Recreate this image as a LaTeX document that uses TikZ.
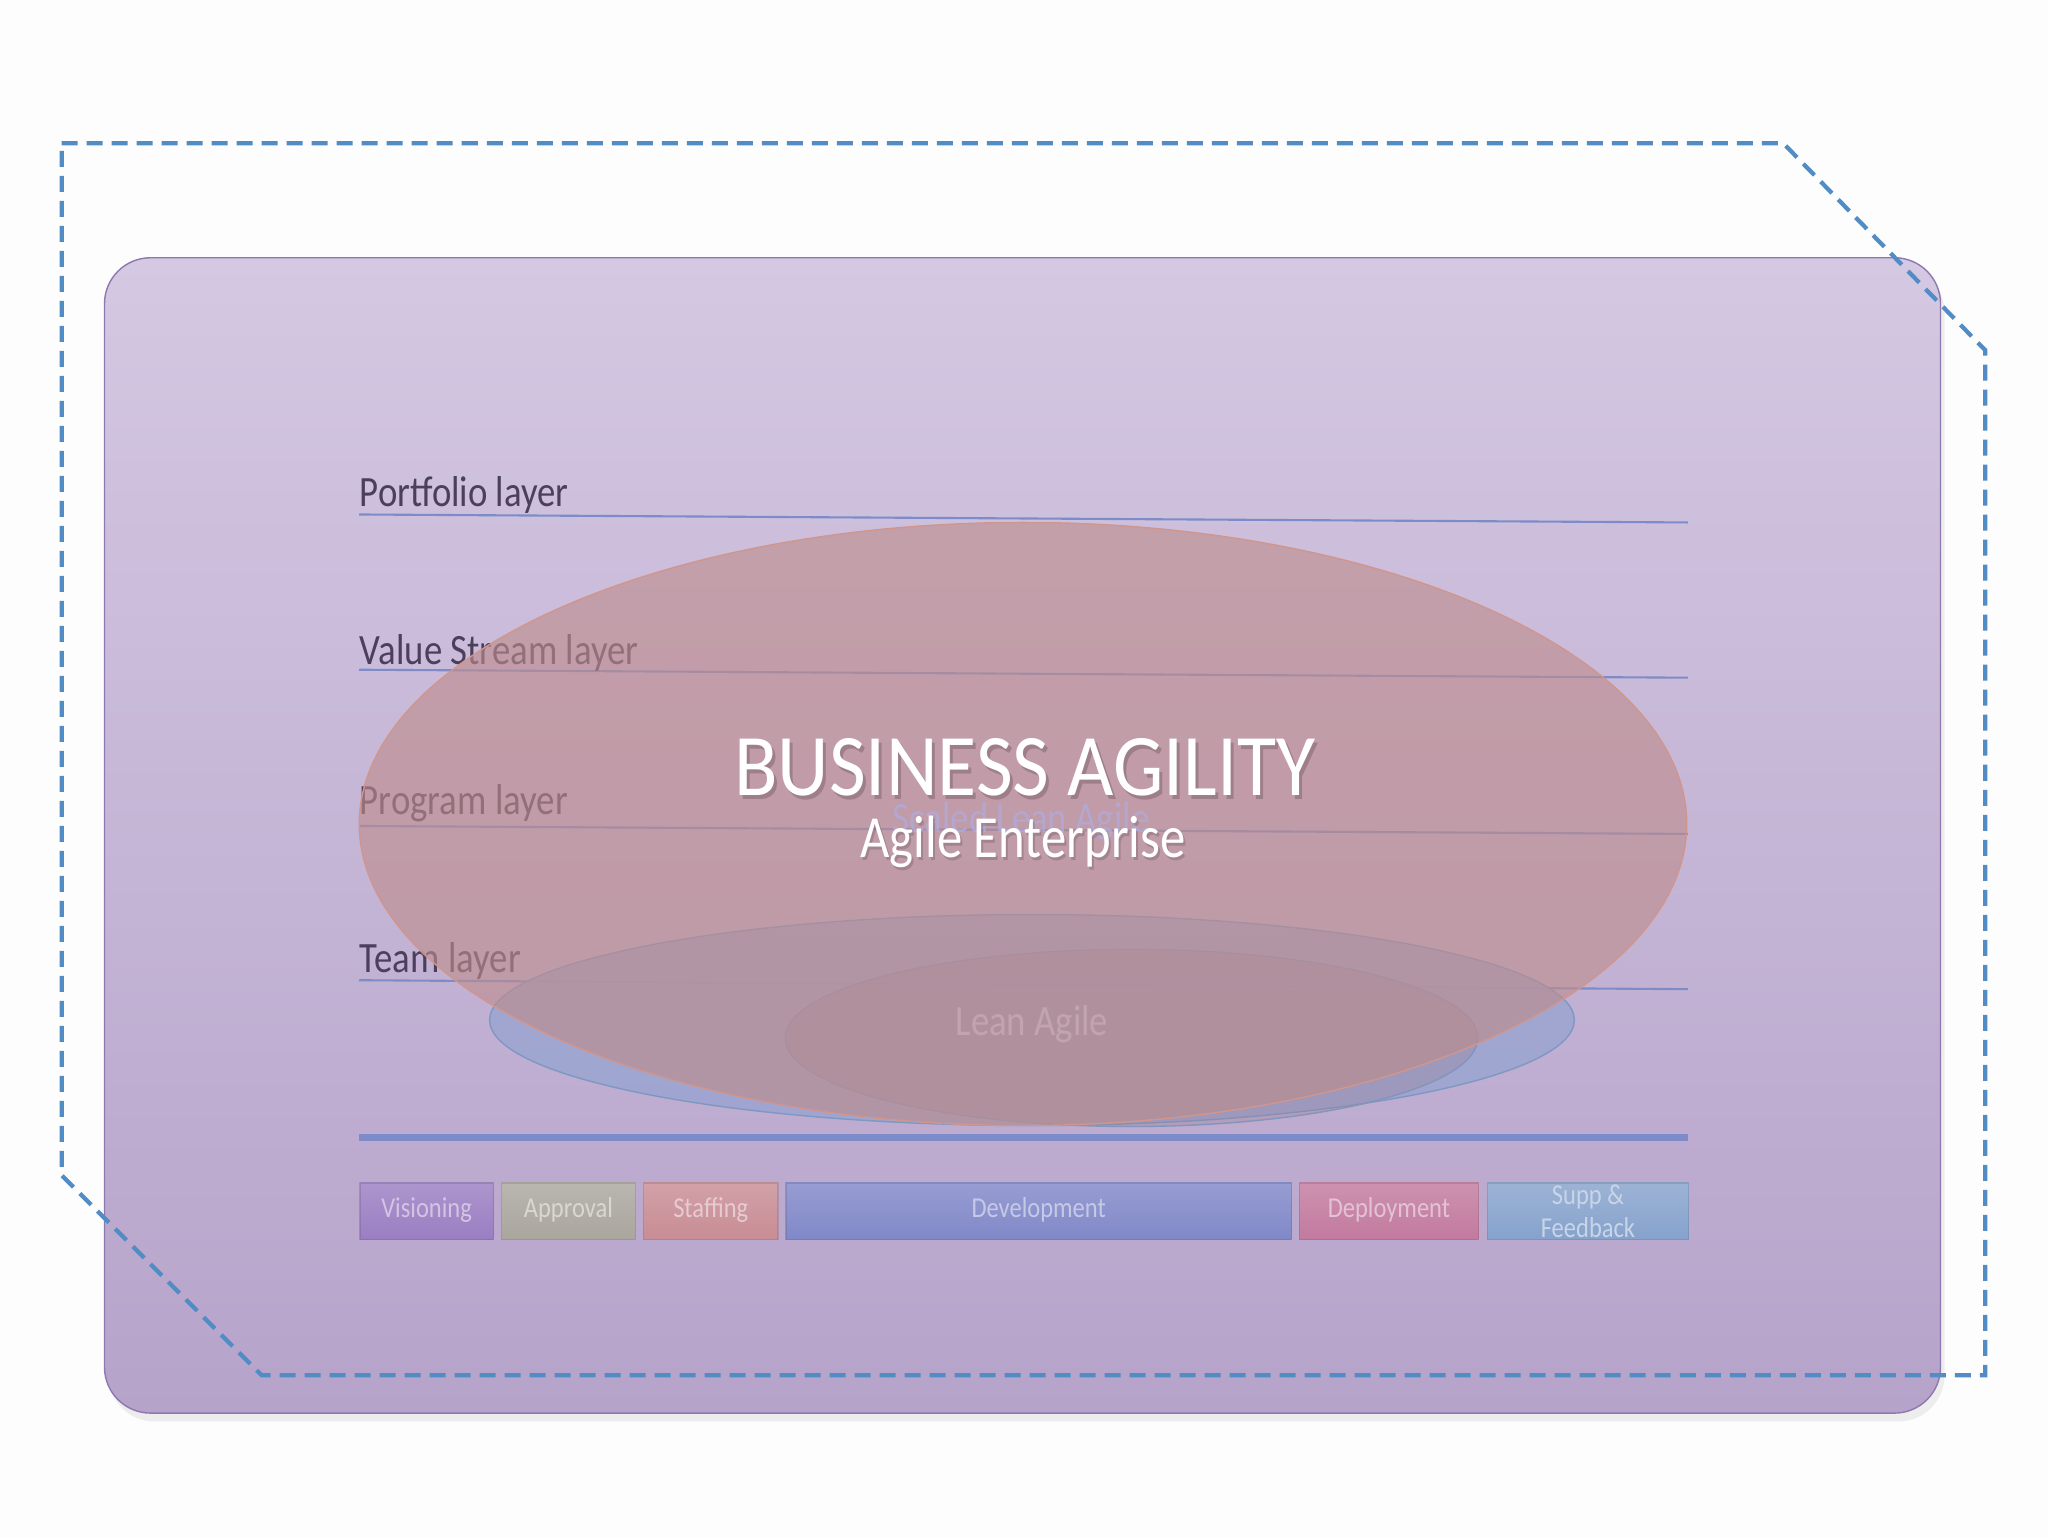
\documentclass[tikz,border=0pt]{standalone}
\usepackage{fontspec}
\setmainfont{Carlito}[FakeStretch=0.85]
\newfontfamily\titlefont{Carlito}[FakeStretch=0.91]
\usetikzlibrary{shadows}

\definecolor{pagebg}{HTML}{FDFDFE}
\definecolor{slidetop}{HTML}{D4C8E2}
\definecolor{slidebot}{HTML}{B6A3CA}
\definecolor{slideedge}{HTML}{8E78B0}
\definecolor{layerblue}{HTML}{7D8CC8}
\definecolor{labelink}{HTML}{4B405C}
\definecolor{dashblue}{HTML}{528CC4}
\definecolor{agilered}{HTML}{BE8C8C}
\definecolor{agileedge}{HTML}{D0968E}
\definecolor{leanblue}{HTML}{98A4D0}
\definecolor{leanedge}{HTML}{7E98C2}
\definecolor{innerfill}{HTML}{9A8298}
\definecolor{scaledink}{HTML}{B0AADA}
\definecolor{visioncol}{HTML}{9A7EC2}
\definecolor{approvecol}{HTML}{AAA69E}
\definecolor{staffcol}{HTML}{C88C94}
\definecolor{developcol}{HTML}{8088C8}
\definecolor{deploycol}{HTML}{C27A9E}
\definecolor{supportcol}{HTML}{86A2CC}

\tikzset{
  layerline/.style = {draw = layerblue, line width = 0.6pt},
  layerlabel/.style = {anchor = base west, inner sep = 0pt, text = labelink,
    font = \fontsize{12.3}{14}\selectfont},
  phasebox/.style = {anchor = north west, inner sep = 0pt, minimum height = 5.67mm,
    draw = #1!75!black, draw opacity = 0.35, top color = #1!82!white, bottom color = #1,
    text = #1!45!white, align = center, font = \fontsize{8.2}{9}\selectfont},
  faint/.style = {text = #1, font = \fontsize{12.3}{14}\selectfont}
}

\begin{document}
\begin{tikzpicture}[x = 0.0995mm, y = -0.0995mm]
  \useasboundingbox (0, 0) rectangle (2058, 1544);
  \fill [pagebg] (0, 0) rectangle (2058, 1544);

  % slide
  \shade [top color = slidetop, bottom color = slidebot, draw = slideedge,
    rounded corners = 4.6mm, drop shadow = {opacity = 0.12, shadow xshift = 0.4mm}]
    (105, 259) rectangle (1950, 1420);

  % layers
  \draw [layerline] (361, 517) -- (1696, 525);
  \draw [layerline] (361, 673) -- (1696, 681);
  \draw [layerline] (361, 830) -- (1696, 838);
  \draw [layerline] (361, 985) -- (1696, 994);
  \draw [layerline, line width = 1.8pt] (361, 1143) -- (1696, 1143);
  \node [layerlabel] (portfolio) at (361, 509) {Portfolio layer};
  \node [layerlabel] (valuestream) at (361, 668) {Value Stream layer};
  \node [layerlabel] (program) at (361, 818) {Program layer};
  \node [layerlabel] (team) at (361, 977) {Team layer};

  % lean / scaled ellipses
  \draw [leanedge, fill = leanblue, fill opacity = 0.8] (1037, 1025) ellipse [x radius = 545, y radius = 106];
  \draw [leanedge!80!innerfill, fill = innerfill, fill opacity = 0.35] (1137, 1043) ellipse [x radius = 348, y radius = 89];
  \node [faint = leanblue!55!white] (lean) at (1037, 1029) {Lean Agile};

  % business agility
  \draw [agileedge, fill = agilered, fill opacity = 0.62] (1028, 828) ellipse [x radius = 667, y radius = 303];
  \node [faint = scaledink, text opacity = 0.8] (scaled) at (1026, 825) {Scaled Lean Agile};
  \node [text = black, text opacity = 0.18, font = \titlefont\fontsize{25}{30}\selectfont] (businessshade) at (1033, 775) {BUSINESS AGILITY};
  \node [text = white, font = \titlefont\fontsize{25}{30}\selectfont] (business) at (1030, 771) {BUSINESS AGILITY};
  \node [text = black, text opacity = 0.15, font = \fontsize{17}{20}\selectfont] (enterpriseshade) at (1030, 849) {Agile Enterprise};
  \node [text = white, font = \fontsize{17}{20}\selectfont] (enterprise) at (1028, 846) {Agile Enterprise};

  % phases
  \node [phasebox = visioncol, minimum width = 13.33mm] (visioning) at (361, 1188) {\strut Visioning};
  \node [phasebox = approvecol, minimum width = 13.43mm] (approval) at (503, 1188) {\strut Approval};
  \node [phasebox = staffcol, minimum width = 13.43mm] (staffing) at (646, 1188) {\strut Staffing};
  \node [phasebox = developcol, minimum width = 50.55mm] (development) at (789, 1188) {\strut Development};
  \node [phasebox = deploycol, minimum width = 17.91mm] (deployment) at (1305, 1188) {\strut Deployment};
  \node [phasebox = supportcol, minimum width = 20.1mm, font = \fontsize{8.2}{9.2}\selectfont] (support) at (1494, 1188) {Supp \&\\Feedback};

  % frame
  \draw [dashblue, line width = 1.2pt, dash pattern = on 1.6mm off 0.9mm]
    (62, 144) -- (1792, 144) -- (1995, 352) -- (1995, 1382) -- (263, 1382) -- (62, 1181) -- cycle;
\end{tikzpicture}
\end{document}
